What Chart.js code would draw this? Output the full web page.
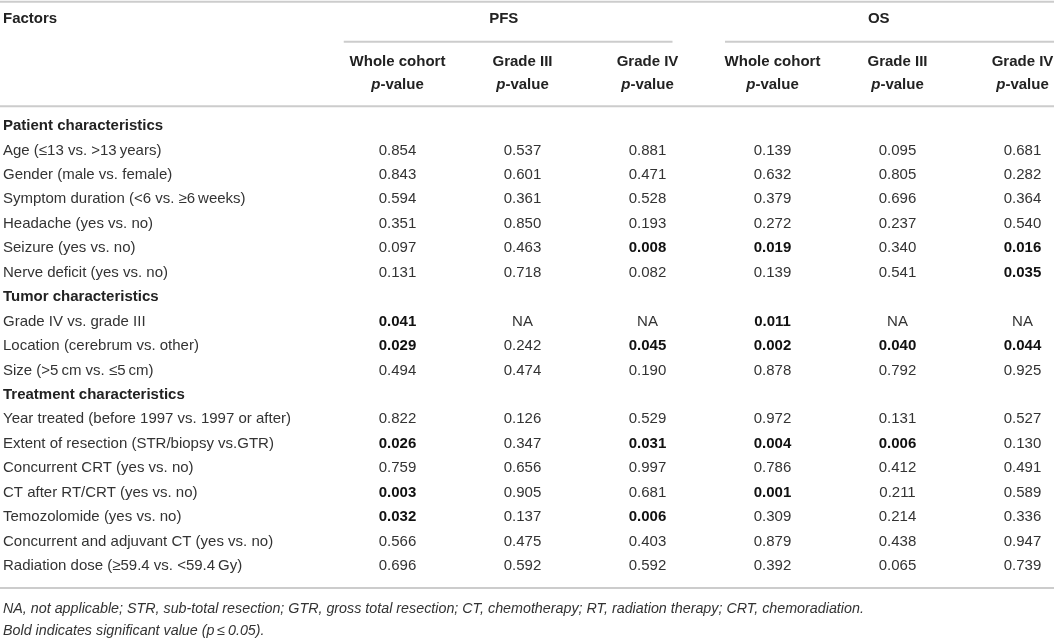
<!DOCTYPE html>
<html lang="en">
<head>
    <meta charset="UTF-8">
    <title>Univariate analysis p-values</title>
    <script src="https://cdn.jsdelivr.net/npm/chart.js"></script>
    <style>
        html, body { margin: 0; padding: 0; background: #fff; }
        #wrap { position: relative; width: 1054px; height: 639px; }
    </style>
</head>
<body>
<div id="wrap"><canvas id="chart"></canvas></div>
<script>
    // table content
    const sections = ['Patient characteristics', 'Tumor characteristics', 'Treatment characteristics'];
    const factors = [
        'Age (\u226413 vs. >13\u2009years)',
        'Gender (male vs. female)',
        'Symptom duration (<6 vs. \u22656\u2009weeks)',
        'Headache (yes vs. no)',
        'Seizure (yes vs. no)',
        'Nerve deficit (yes vs. no)',
        'Grade IV vs. grade III',
        'Location (cerebrum vs. other)',
        'Size (>5\u2009cm vs. \u22645\u2009cm)',
        'Year treated (before 1997 vs. 1997 or after)',
        'Extent of resection (STR/biopsy vs.GTR)',
        'Concurrent CRT (yes vs. no)',
        'CT after RT/CRT (yes vs. no)',
        'Temozolomide (yes vs. no)',
        'Concurrent and adjuvant CT (yes vs. no)',
        'Radiation dose (\u226559.4 vs. <59.4\u2009Gy)'
    ];
    const factorSection = [0, 0, 0, 0, 0, 0, 1, 1, 1, 2, 2, 2, 2, 2, 2, 2];

    const groups = ['PFS', 'OS'];
    const subHeaders = ['Whole cohort', 'Grade III', 'Grade IV', 'Whole cohort', 'Grade III', 'Grade IV'];

    // null = not applicable
    const pfsWhole = [0.854, 0.843, 0.594, 0.351, 0.097, 0.131, 0.041, 0.029, 0.494, 0.822, 0.026, 0.759, 0.003, 0.032, 0.566, 0.696];
    const pfsGrade3 = [0.537, 0.601, 0.361, 0.850, 0.463, 0.718, null, 0.242, 0.474, 0.126, 0.347, 0.656, 0.905, 0.137, 0.475, 0.592];
    const pfsGrade4 = [0.881, 0.471, 0.528, 0.193, 0.008, 0.082, null, 0.045, 0.190, 0.529, 0.031, 0.997, 0.681, 0.006, 0.403, 0.592];
    const osWhole = [0.139, 0.632, 0.379, 0.272, 0.019, 0.139, 0.011, 0.002, 0.878, 0.972, 0.004, 0.786, 0.001, 0.309, 0.879, 0.392];
    const osGrade3 = [0.095, 0.805, 0.696, 0.237, 0.340, 0.541, null, 0.040, 0.792, 0.131, 0.006, 0.412, 0.211, 0.214, 0.438, 0.065];
    const osGrade4 = [0.681, 0.282, 0.364, 0.540, 0.016, 0.035, null, 0.044, 0.925, 0.527, 0.130, 0.491, 0.589, 0.336, 0.947, 0.739];

    const footnotes = [
        'NA, not applicable; STR, sub-total resection; GTR, gross total resection; CT, chemotherapy; RT, radiation therapy; CRT, chemoradiation.',
        'Bold indicates significant value (p\u2009\u2264\u20090.05).'
    ];

    const columns = [pfsWhole, pfsGrade3, pfsGrade4, osWhole, osGrade3, osGrade4];

    // rows: section header followed by its factors
    let rowLabels = [];
    let rowIsSection = [];
    let factorRow = [];
    sections.forEach(function (s, si) {
        rowLabels.push(s);
        rowIsSection.push(true);
        factors.forEach(function (f, fi) {
            if (factorSection[fi] === si) {
                factorRow[fi] = rowLabels.length;
                rowLabels.push(f);
                rowIsSection.push(false);
            }
        });
    });

    // vertical layout in row units
    const yTopRule = -5.08, yTitle = -4.38, yGroupRule = -3.45;
    const ySub1 = -2.62, ySub2 = -1.68, yHeadRule = -0.81;
    const yBottomRule = 18.9, yNote1 = 19.77, yNote2 = 20.67;
    const groupSpan = [[-0.43, 2.2], [2.62, 5.3]];

    const FONT = '"Liberation Sans", Arial, sans-serif';
    const SIZE = 15;
    const NOTE_SIZE = 14.3;

    function drawText(ctx, txt, x, y, weight, style, align) {
        ctx.font = (style || 'normal') + ' ' + weight + ' ' + SIZE + 'px ' + FONT;
        ctx.textAlign = align;
        ctx.fillText(txt, x, y);
    }

    const tablePlugin = {
        id: 'tableText',
        afterDatasetsDraw(chart) {
            const ctx = chart.ctx;
            const xs = chart.scales.x, ys = chart.scales.y;
            const left = chart.chartArea.left, right = chart.chartArea.right;
            ctx.save();
            ctx.textBaseline = 'middle';

            // rules
            ctx.strokeStyle = '#cccccc';
            ctx.lineWidth = 2;
            [yTopRule, yHeadRule, yBottomRule].forEach(function (v) {
                const py = ys.getPixelForValue(v);
                ctx.beginPath(); ctx.moveTo(left, py); ctx.lineTo(right, py); ctx.stroke();
            });
            groupSpan.forEach(function (sp) {
                const py = ys.getPixelForValue(yGroupRule);
                ctx.beginPath();
                ctx.moveTo(xs.getPixelForValue(sp[0]), py);
                ctx.lineTo(Math.min(right, xs.getPixelForValue(sp[1])), py);
                ctx.stroke();
            });

            // header
            ctx.fillStyle = '#222';
            drawText(ctx, 'Factors', left + 3, ys.getPixelForValue(yTitle), 'bold', 'normal', 'left');
            groups.forEach(function (g, gi) {
                drawText(ctx, g, xs.getPixelForValue(gi * 3 + 0.85), ys.getPixelForValue(yTitle), 'bold', 'normal', 'center');
            });
            subHeaders.forEach(function (h, ci) {
                const cx = xs.getPixelForValue(ci);
                drawText(ctx, h, cx, ys.getPixelForValue(ySub1), 'bold', 'normal', 'center');
                // "p-value" with italic p
                const py = ys.getPixelForValue(ySub2);
                ctx.font = 'italic bold ' + SIZE + 'px ' + FONT;
                const wp = ctx.measureText('p').width;
                ctx.font = 'bold ' + SIZE + 'px ' + FONT;
                const wr = ctx.measureText('-value').width;
                const x0 = cx - (wp + wr) / 2;
                drawText(ctx, 'p', x0, py, 'bold', 'italic', 'left');
                drawText(ctx, '-value', x0 + wp, py, 'bold', 'normal', 'left');
            });

            // row labels
            rowLabels.forEach(function (lab, ri) {
                ctx.fillStyle = rowIsSection[ri] ? '#222' : '#333';
                drawText(ctx, lab, left + 3, ys.getPixelForValue(ri), rowIsSection[ri] ? 'bold' : 'normal', 'normal', 'left');
            });

            // cell values at the dataset points
            chart.data.datasets.forEach(function (ds, di) {
                const meta = chart.getDatasetMeta(di);
                meta.data.forEach(function (el, j) {
                    const v = ds.data[j].v;
                    const sig = v !== null && v <= 0.05;
                    ctx.fillStyle = sig ? '#111' : '#333';
                    drawText(ctx, v === null ? 'NA' : v.toFixed(3), el.x, el.y, sig ? 'bold' : 'normal', 'normal', 'center');
                });
            });

            // footnotes
            ctx.fillStyle = '#333';
            ctx.font = 'italic ' + NOTE_SIZE + 'px ' + FONT;
            ctx.textAlign = 'left';
            ctx.fillText(footnotes[0], left + 3, ys.getPixelForValue(yNote1));
            ctx.fillText(footnotes[1], left + 3, ys.getPixelForValue(yNote2));
            ctx.restore();
        }
    };

    const datasets = columns.map(function (vals, ci) {
        return {
            label: subHeaders[ci],
            data: vals.map(function (v, fi) { return { x: ci, y: factorRow[fi], v: v }; }),
            pointRadius: 0,
            pointHoverRadius: 0
        };
    });

    new Chart(document.getElementById('chart'), {
        type: 'scatter',
        data: { datasets: datasets },
        options: {
            responsive: true,
            maintainAspectRatio: false,
            animation: false,
            layout: { padding: 0 },
            plugins: { legend: { display: false }, tooltip: { enabled: false } },
            scales: {
                x: { type: 'linear', display: false, min: -3.18, max: 5.252 },
                y: { type: 'linear', display: false, reverse: true, min: -5.155, max: 20.99 }
            }
        },
        plugins: [tablePlugin]
    });
</script>
</body>
</html>
